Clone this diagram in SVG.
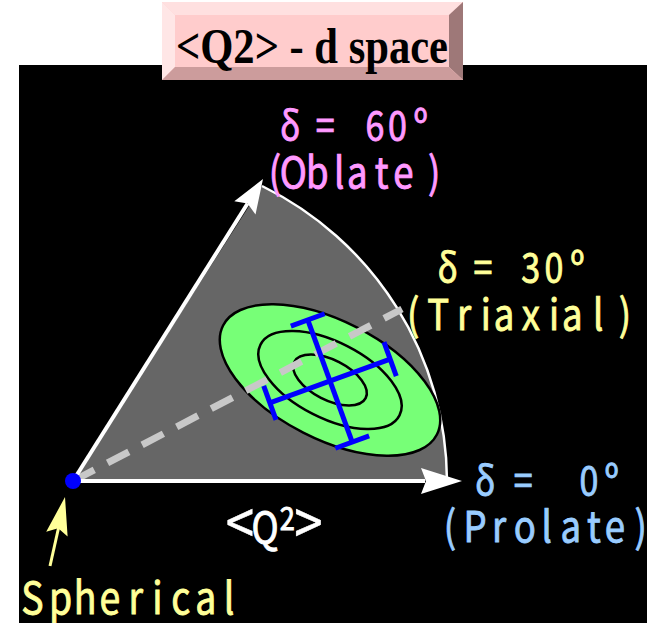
<svg xmlns="http://www.w3.org/2000/svg" width="657" height="623" viewBox="0 0 657 623">
<style>
.lab{font-family:"Noto Sans CJK JP","Noto Sans",sans-serif;font-size:43px;text-anchor:middle;stroke-width:0.9}
.d{font-size:40px}
.br{font-size:60px;stroke-width:0.5}
.ttl{font-family:"Liberation Serif","Times New Roman",serif;font-weight:bold;font-size:50px}
.ring{fill:none;stroke:#000;stroke-width:2.5}
.cross line{stroke:#0000FF;stroke-width:5}
.wline{stroke:#fff;stroke-width:4;fill:none}
</style>
<rect id="background" x="19" y="65" width="628" height="558" fill="#000"/>
<g id="title">
<rect x="162" y="2" width="301" height="78" fill="#FFCCCC"/>
<polygon points="162,2 463,2 449,15 175,15" fill="#FFE0E0"/>
<polygon points="162,2 175,15 175,67 162,80" fill="#FFE6E6"/>
<polygon points="463,2 463,80 449,67 449,15" fill="#9E7878"/>
<polygon points="162,80 175,67 449,67 463,80" fill="#CC9C9C"/>
<text class="ttl" x="176" y="63" textLength="272" lengthAdjust="spacingAndGlyphs">&lt;Q2&gt; - d space</text>
</g>
<g id="region">
<path d="M73,481 L262,186 A330,330 0 0,1 447,481 Z" fill="#666666"/>
<path d="M262,186 A330,330 0 0,1 447,481" fill="none" stroke="#fff" stroke-width="2.5"/>
</g>
<g id="ellipse" transform="translate(330,380) rotate(27)">
<ellipse rx="120" ry="59" fill="#77FF77" stroke="#000" stroke-width="2.5"/>
<ellipse class="ring" rx="78" ry="38"/>
<ellipse class="ring" rx="40" ry="20"/>
</g>
<g id="connectors">
<line x1="73" y1="481" x2="402" y2="309" stroke="#C8C8C8" stroke-width="7" stroke-dasharray="24 15"/>
<line class="wline" x1="73" y1="481" x2="425" y2="481"/>
<polygon points="462,481 421,468 426,481 421,494" fill="#fff"/>
<line class="wline" x1="73" y1="481" x2="247.6" y2="203.5"/>
<polygon points="263,179 255.5,214.5 247.6,203.5 234.3,201.2" fill="#fff"/>
<line x1="50" y1="566" x2="58.5" y2="528" stroke="#FFFF99" stroke-width="3"/>
<polygon points="65,497 67.6,536.4 58.2,528.3 46.2,531.8" fill="#FFFF99"/>
</g>
<g id="cross" class="cross" transform="translate(330,381) rotate(-20)">
<line x1="-64" y1="0" x2="64" y2="0"/>
<line x1="0" y1="-65" x2="0" y2="65"/>
<line x1="-64" y1="-18" x2="-64" y2="18"/>
<line x1="64" y1="-18" x2="64" y2="18"/>
<line x1="-18" y1="-65" x2="18" y2="-65"/>
<line x1="-18" y1="65" x2="18" y2="65"/>
</g>
<g id="origin"><circle cx="73" cy="481" r="8" fill="#0000FF"/></g>
<g id="label-oblate" class="lab" fill="#FF99FF" stroke="#FF99FF" transform="scale(0.85 1)">
<text><tspan class="d" x="341.2 361.2 382.7 411.8 441.2 467.6 494.9" y="140">δ = 60º</tspan><tspan x="323.5 345.1 373.3 399.2 420.4 449.1 474.5 510.9" y="188">(Oblate)</tspan></text>
</g>
<g id="label-triaxial" class="lab" fill="#FFFF99" stroke="#FFFF99" transform="scale(0.85 1)">
<text><tspan class="d" x="526.5 547.1 568.2 596.5 624.4 651.8 679.2" y="282">δ = 30º</tspan><tspan x="486.2 515.6 545.9 571.4 592.9 624.4 651.8 673.3 703.9 735.3" y="330">(Triaxial)</tspan></text>
</g>
<g id="label-prolate" class="lab" fill="#99CCFF" stroke="#99CCFF" transform="scale(0.85 1)">
<text><tspan class="d" x="570.6 592.9 615.6 654.1 692.9 719.6" y="495">δ = 0º</tspan><tspan x="529.4 558.8 587.1 617.6 643.2 671.4 698.8 723.5 753.8" y="542">(Prolate)</tspan></text>
</g>
<g id="label-spherical" class="lab" fill="#FFFF99" stroke="#FFFF99" transform="scale(0.85 1)">
<text x="38 71.4 100 129.4 159.6 185.1 212.6 242 269.4" y="614" font-size="44">Spherical</text>
</g>
<g id="label-q2" class="lab" fill="#fff" stroke="#fff" transform="scale(0.85 1)">
<text y="543"><tspan class="br" x="282.4" y="545">&lt;</tspan><tspan x="311.8" y="543">Q</tspan><tspan x="338" y="530" font-size="32">2</tspan><tspan class="br" x="362.7" y="545">&gt;</tspan></text>
</g>
</svg>
